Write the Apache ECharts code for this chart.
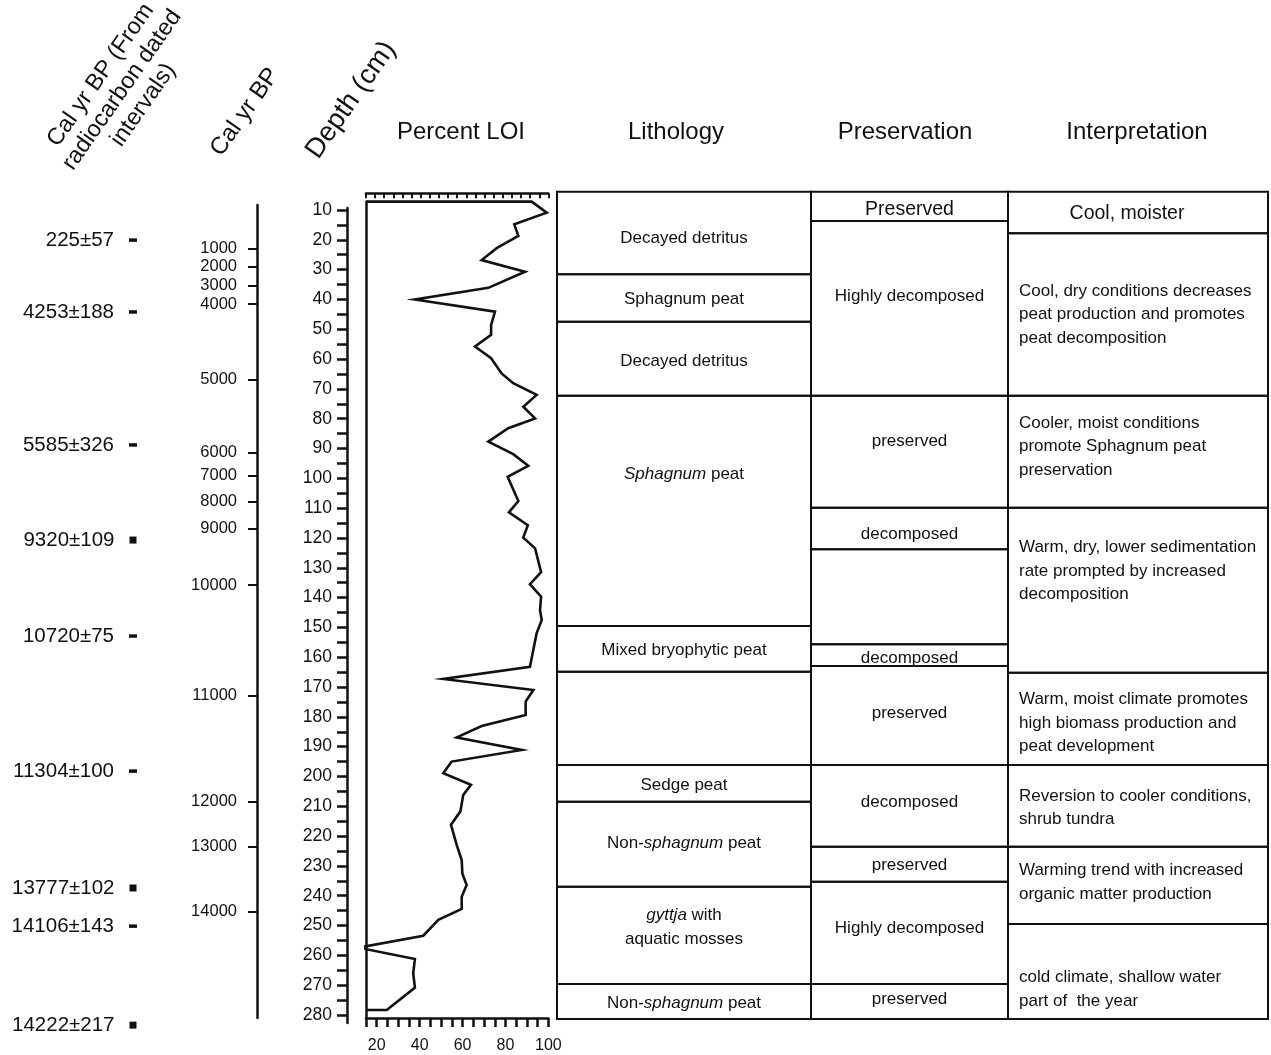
<!DOCTYPE html>
<html>
<head>
<meta charset="utf-8">
<script src="https://cdn.jsdelivr.net/npm/echarts@6/dist/echarts.min.js"></script>
<style>
  html, body { margin: 0; padding: 0; background: #fff; }
  #chart { width: 1271px; height: 1055px; }
</style>
</head>
<body>
<div id="chart"></div>
<script>
// ---- Core data -------------------------------------------------------------

// Percent loss-on-ignition down the core: [LOI %, depth cm]
const loiProfile = [
  [92.2, 7.2], [99.2, 10.9], [84.1, 14.8], [86.0, 18.7], [75.9, 22.8], [68.9, 26.8],
  [89.1, 30.7], [72.0, 36.1], [37.8, 40.0], [75.1, 44.1], [73.3, 48.6], [73.3, 51.9],
  [65.8, 55.8], [73.3, 59.7], [78.2, 64.8], [83.6, 68.1], [94.5, 72.0], [88.3, 76.0],
  [93.8, 79.9], [81.3, 83.2], [72.0, 87.7], [83.6, 91.9], [90.6, 95.8], [81.0, 99.5],
  [86.0, 107.6], [81.6, 111.4], [90.4, 115.7], [88.3, 119.9], [93.8, 123.5], [96.6, 131.5],
  [91.4, 135.5], [96.6, 139.7], [96.1, 144.2], [96.9, 147.5], [94.5, 152.0], [91.4, 163.2],
  [51.0, 167.3], [93.0, 171.0], [89.4, 174.9], [89.4, 179.4], [68.9, 183.1], [57.3, 186.9],
  [87.6, 191.1], [54.9, 195.0], [51.0, 198.9], [63.9, 202.8], [60.3, 206.2], [59.0, 211.7],
  [54.6, 216.2], [57.3, 223.0], [59.6, 228.0], [59.9, 232.5], [61.9, 236.4], [59.6, 240.3],
  [59.6, 244.4], [48.7, 248.1], [41.7, 253.4], [11.4, 257.4], [37.8, 261.2], [37.0, 266.0],
  [37.8, 270.8], [24.7, 278.3]
];

// Depth scale (cm)
const depthLabels = [10, 20, 30, 40, 50, 60, 70, 80, 90, 100, 110, 120, 130, 140,
  150, 160, 170, 180, 190, 200, 210, 220, 230, 240, 250, 260, 270, 280];
const depthTicks = depthLabels.flatMap((d, i) => i < depthLabels.length - 1 ? [d, d + 5] : [d]);

// Modelled calendar ages and the depths they fall at
const ageLabels = ['1000', '2000', '3000', '4000', '5000', '6000', '7000', '8000',
  '9000', '10000', '11000', '12000', '13000', '14000'];
const ageDepths = [22.9, 29.0, 35.4, 41.6, 67.0, 91.3, 99.1, 107.8, 116.8, 135.8,
  172.9, 208.5, 223.5, 245.3];

// Radiocarbon-dated intervals
const dateLabels = ['225±57', '4253±188', '5585±326', '9320±109', '10720±75',
  '11304±100', '13777±102', '14106±143', '14222±217'];
const dateDepths = [20.1, 44.2, 88.8, 120.7, 152.9, 198.2, 237.4, 250.2, 283.4];
const dateKind = ['dash', 'dash', 'dash', 'block', 'dash', 'dash', 'block', 'dash', 'block'];

// Lithology units: [top cm, base cm, description]
const lithology = [
  [3.86, 31.57, 'Decayed detritus'],
  [31.57, 47.46, 'Sphagnum peat'],
  [47.46, 72.28, 'Decayed detritus'],
  [72.28, 149.53, '{i|Sphagnum} peat'],
  [149.53, 164.85, 'Mixed bryophytic peat'],
  [164.85, 196.15, ''],
  [196.15, 208.46, 'Sedge peat'],
  [208.46, 236.96, 'Non-{i|sphagnum} peat'],
  [236.96, 269.60, '{i|gyttja} with\naquatic mosses'],
  [269.60, 281.34, 'Non-{i|sphagnum} peat']
];

// Preservation state: [top cm, base cm, state]
const preservation = [
  [3.86, 13.69, 'Preserved'],
  [13.69, 72.28, 'Highly decomposed'],
  [72.28, 109.85, 'preserved'],
  [109.85, 123.80, 'decomposed'],
  [123.80, 155.67, ''],
  [155.67, 162.94, 'decomposed'],
  [162.94, 196.15, 'preserved'],
  [196.15, 223.55, 'decomposed'],
  [223.55, 235.29, 'preserved'],
  [235.29, 269.60, 'Highly decomposed'],
  [269.60, 281.34, 'preserved']
];

// Palaeoenvironmental interpretation: [top cm, base cm, text]
const interpretation = [
  [3.86, 17.81, 'Cool, moister'],
  [17.81, 72.28, 'Cool, dry conditions decreases\npeat production and promotes\npeat decomposition'],
  [72.28, 109.85, 'Cooler, moist conditions\npromote Sphagnum peat\npreservation'],
  [109.85, 165.2, 'Warm, dry, lower sedimentation\nrate prompted by increased\ndecomposition'],
  [165.2, 196.15, 'Warm, moist climate promotes\nhigh biomass production and\npeat development'],
  [196.15, 223.55, 'Reversion to cooler conditions,\nshrub tundra'],
  [223.55, 249.47, 'Warming trend with increased\norganic matter production'],
  [249.47, 281.34, 'cold climate, shallow water\npart of  the year']
];

// ---- Layout ----------------------------------------------------------------

const FONT = '"Liberation Sans", Arial, Helvetica, sans-serif';
const INK = '#111';
const PX_PER_CM = 2.9815;
const Y_AT_0CM = 180.185;
const py = d => Y_AT_0CM + d * PX_PER_CM;

const LOI_MIN = 15, LOI_MAX = 100;
const PX_PER_PCT = 2.146, X_AT_0PCT = 333.8;
const loiTop = loiProfile[0][1];
const loiBase = 281;

// Text nudges (px) for cell captions
const lithNudge = [5, 1, 3, -37, 1, 0, 2, -1, -8, 2];
const presNudge = [3, -12, -10, 6, 0, 3, -2, -4, 1, -5, -2];
const interpNudge = [1, 0, -5, -19, 4, 2, -3, 18];
const interpShiftX = [-11, 0, 0, 0, 0, 0, 0, 0];

// Grid indices
const G_LOI = 0, G_DEPTH = 1, G_AGE = 2, G_DATES = 3, G_LITH = 4, G_PRES = 5, G_INTERP = 6;
// The LOI grid carries two x axes (bottom scale + top tick bar), every other grid one.
const xIdx = g => (g === G_LOI ? 0 : g + 1);
const yIdx = g => g;

const TABLE_RANGE = [0, 290];
const tableGrid = (left, width) => ({
  left, width, top: py(TABLE_RANGE[0]), height: (TABLE_RANGE[1] - TABLE_RANGE[0]) * PX_PER_CM,
  outerBoundsMode: 'none'
});

const chart = echarts.init(document.getElementById('chart'), null, { renderer: 'canvas' });

// Draws one column of depth-bounded cells; data items are [0, top, base]
function cellRenderer(rows, opts) {
  return function (params, api) {
    const top = api.value(1), base = api.value(2);
    const p0 = api.coord([0, top]);
    const p1 = api.coord([1, base]);
    const x = p0[0], y = p0[1], w = p1[0] - p0[0], h = p1[1] - p0[1];
    const i = params.dataIndex;
    const children = [{
      type: 'rect',
      shape: { x, y, width: w, height: h },
      style: { fill: 'none', stroke: INK, lineWidth: 2 }
    }];
    const text = rows[i][2];
    if (text) {
      const big = (opts.big || []).includes(i);
      const left = opts.align === 'left' && !big;
      const size = big ? 19.5 : 17;
      const dx = opts.shiftX ? (opts.shiftX[i] || 0) : 0;
      children.push({
        type: 'text',
        style: {
          text,
          x: (left ? x + 11 : x + w / 2) + dx,
          y: y + h / 2 + (opts.nudge[i] || 0),
          align: left ? 'left' : 'center',
          verticalAlign: 'middle',
          fontSize: size,
          fontFamily: FONT,
          lineHeight: opts.lineHeight,
          fill: INK,
          rich: {
            i: { fontStyle: 'italic', fontSize: size, fontFamily: FONT, fill: INK, lineHeight: opts.lineHeight }
          }
        }
      });
    }
    return { type: 'group', children };
  };
}

const hiddenX = gridIndex => ({ type: 'value', gridIndex, min: 0, max: 1, show: false });
const hiddenY = gridIndex => ({ type: 'value', gridIndex, inverse: true, min: TABLE_RANGE[0], max: TABLE_RANGE[1], show: false });
const axisInk = { color: INK, width: 2.5 };

const headerText = (text, x, y, size, rotationDeg, extra) => ({
  type: 'text',
  x, y,
  rotation: (rotationDeg || 0) * Math.PI / 180,
  style: Object.assign({
    text, fontSize: size, fontFamily: FONT, fill: INK,
    align: 'center', verticalAlign: 'middle',
    textAlign: 'center', textVerticalAlign: 'middle'
  }, extra || {})
});

const cellSeries = (name, rows, grid, opts) => ({
  name, type: 'custom', coordinateSystem: 'cartesian2d',
  xAxisIndex: xIdx(grid), yAxisIndex: yIdx(grid), silent: true,
  encode: { x: 0, y: [1, 2] },
  data: rows.map(r => [0, r[0], r[1]]),
  renderItem: cellRenderer(rows, opts)
});

const option = {
  backgroundColor: '#fff',
  animation: false,
  grid: [
    // LOI profile
    { left: X_AT_0PCT + LOI_MIN * PX_PER_PCT, width: (LOI_MAX - LOI_MIN) * PX_PER_PCT,
      top: py(loiTop), height: py(loiBase) - py(loiTop), outerBoundsMode: 'none' },
    // depth scale
    { left: 347, width: 1, top: py(9.3), height: py(282.7) - py(9.3), outerBoundsMode: 'none' },
    // calendar age scale
    { left: 257, width: 1, top: py(8.32), height: py(281) - py(8.32), outerBoundsMode: 'none' },
    // radiocarbon dates
    tableGrid(128, 10),
    // lithology, preservation, interpretation columns
    tableGrid(557, 254),
    tableGrid(811, 197),
    tableGrid(1008, 260)
  ],
  xAxis: [
    {
      type: 'value', gridIndex: G_LOI, position: 'bottom', min: LOI_MIN, max: LOI_MAX, interval: 5,
      axisLine: { show: true, onZero: false, lineStyle: axisInk },
      axisTick: { show: true, length: 9, lineStyle: { color: INK, width: 2.5 } },
      axisLabel: {
        show: true, margin: 20, fontSize: 16, fontFamily: FONT, color: INK,
        showMinLabel: true, showMaxLabel: true,
        formatter: v => (v % 20 === 0 ? String(v) : '')
      },
      splitLine: { show: false }
    },
    {
      type: 'value', gridIndex: G_LOI, position: 'top', offset: 8, min: 0, max: 20, interval: 1,
      axisLine: { show: true, onZero: false, lineStyle: axisInk },
      axisTick: { show: true, inside: true, length: 4.5, lineStyle: { color: INK, width: 2 } },
      axisLabel: { show: false },
      splitLine: { show: false }
    },
    hiddenX(G_DEPTH), hiddenX(G_AGE), hiddenX(G_DATES), hiddenX(G_LITH), hiddenX(G_PRES), hiddenX(G_INTERP)
  ],
  yAxis: [
    {
      type: 'value', gridIndex: G_LOI, inverse: true, min: loiTop, max: loiBase,
      axisLine: { show: true, onZero: false, lineStyle: axisInk },
      axisTick: { show: false }, axisLabel: { show: false }, splitLine: { show: false }
    },
    {
      type: 'value', gridIndex: G_DEPTH, inverse: true, min: 9.3, max: 282.7,
      axisLine: { show: true, onZero: false, lineStyle: axisInk },
      axisTick: { show: true, customValues: depthTicks, length: 10, lineStyle: { color: INK, width: 2.5 } },
      axisLabel: { show: true, customValues: depthLabels, margin: 15, fontSize: 17.5, fontFamily: FONT, color: INK },
      splitLine: { show: false }
    },
    {
      type: 'value', gridIndex: G_AGE, inverse: true, min: 8.32, max: 281,
      axisLine: { show: true, onZero: false, lineStyle: axisInk },
      axisTick: { show: true, customValues: ageDepths, length: 9, lineStyle: { color: INK, width: 2 } },
      axisLabel: {
        show: true, customValues: ageDepths, margin: 20, fontSize: 16.5, fontFamily: FONT, color: INK,
        formatter: v => {
          const k = ageDepths.findIndex(d => Math.abs(d - v) < 1e-6);
          return k >= 0 ? ageLabels[k] : '';
        }
      },
      splitLine: { show: false }
    },
    hiddenY(G_DATES), hiddenY(G_LITH), hiddenY(G_PRES), hiddenY(G_INTERP)
  ],
  series: [
    {
      name: 'Percent LOI',
      type: 'line',
      xAxisIndex: xIdx(G_LOI), yAxisIndex: yIdx(G_LOI),
      // profile closed against the left frame at its top and base
      data: [[LOI_MIN, loiProfile[0][1]]].concat(loiProfile, [[LOI_MIN, loiProfile[loiProfile.length - 1][1]]]),
      showSymbol: false, symbol: 'none',
      clip: false, silent: true,
      lineStyle: { color: INK, width: 2.6, join: 'miter' }
    },
    {
      name: 'Radiocarbon dates',
      type: 'scatter',
      xAxisIndex: xIdx(G_DATES), yAxisIndex: yIdx(G_DATES),
      silent: true,
      data: dateDepths.map((d, i) => ({
        value: [0.5, d],
        symbol: 'rect',
        symbolSize: dateKind[i] === 'block' ? [7, 7] : [8, 3.5]
      })),
      itemStyle: { color: INK, opacity: 1 },
      label: {
        show: true, position: 'left', distance: 15,
        fontSize: 20.5, fontFamily: FONT, color: INK, opacity: 1,
        textBorderWidth: 0,
        formatter: p => dateLabels[p.dataIndex]
      }
    },
    cellSeries('Lithology', lithology, G_LITH, { align: 'center', nudge: lithNudge, lineHeight: 24 }),
    cellSeries('Preservation', preservation, G_PRES, { align: 'center', nudge: presNudge, lineHeight: 24, big: [0] }),
    cellSeries('Interpretation', interpretation, G_INTERP,
      { align: 'left', nudge: interpNudge, shiftX: interpShiftX, lineHeight: 23.5, big: [0] })
  ],
  graphic: [
    headerText('Cal yr BP (From\nradiocarbon dated\nintervals)', 122, 90, 23.5, 55, { lineHeight: 26 }),
    headerText('Cal yr BP', 245, 112, 24, 55),
    headerText('Depth (cm)', 351, 100, 27.5, 55),
    headerText('Percent LOI', 461, 132, 24),
    headerText('Lithology', 676, 132, 24),
    headerText('Preservation', 905, 132, 24),
    headerText('Interpretation', 1137, 132, 24)
  ]
};

chart.setOption(option);
</script>
</body>
</html>
